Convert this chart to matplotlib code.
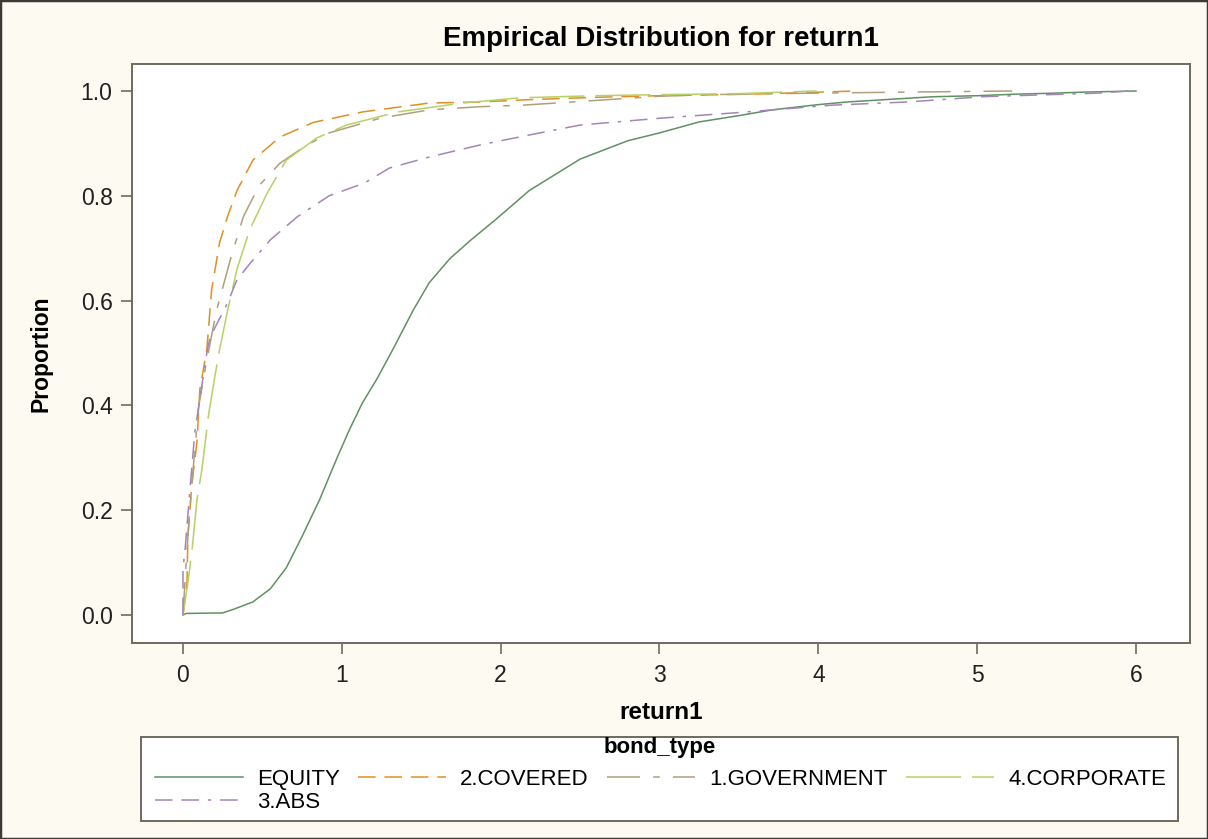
import matplotlib
matplotlib.use("Agg")
import matplotlib.pyplot as plt
from matplotlib.patches import Rectangle

equity_x = [0, 0.02, 0.25, 0.31, 0.44, 0.55, 0.65, 0.75, 0.86, 0.97, 1.05, 1.13, 1.22,
            1.32, 1.45, 1.55, 1.68, 1.81, 1.97, 2.18, 2.5, 2.8, 3.0, 3.25, 3.5, 3.71,
            4.0, 4.18, 4.5, 4.72, 5.0, 5.25, 5.5, 5.69, 6.0]
equity_y = [0, 0.003, 0.004, 0.01, 0.025, 0.05, 0.09, 0.15, 0.22, 0.30, 0.355, 0.405, 0.45,
            0.506, 0.582, 0.634, 0.68, 0.715, 0.755, 0.81, 0.87, 0.905, 0.92, 0.941, 0.953, 0.964,
            0.974, 0.979, 0.985, 0.989, 0.991, 0.994, 0.996, 0.998, 1.0]

covered_x = [0, 0.025, 0.031, 0.056, 0.088, 0.106, 0.15, 0.18, 0.23, 0.28, 0.34, 0.44,
             0.61, 0.82, 1.13, 1.55, 1.87, 2.14, 2.6, 3.0, 3.59, 4.24]
covered_y = [0, 0.06, 0.15, 0.25, 0.33, 0.43, 0.506, 0.62, 0.71, 0.76, 0.81, 0.868,
             0.912, 0.94, 0.96, 0.977, 0.979, 0.983, 0.988, 0.991, 0.994, 1.0]

government_x = [0, 0.02, 0.04, 0.07, 0.1, 0.14, 0.21, 0.30, 0.38, 0.48, 0.61, 0.76, 0.92,
                1.24, 1.55, 1.87, 2.14, 2.5, 3.0, 3.3, 4.0, 4.6, 5.22]
government_y = [0, 0.1, 0.19, 0.3, 0.4, 0.47, 0.58, 0.68, 0.76, 0.82, 0.862, 0.893, 0.92,
                0.948, 0.964, 0.97, 0.973, 0.98, 0.99, 0.993, 0.996, 0.998, 1.0]

corporate_x = [0, 0.03, 0.057, 0.088, 0.12, 0.16, 0.2, 0.23, 0.28, 0.34, 0.42, 0.53, 0.65,
               0.84, 1.03, 1.35, 1.76, 2.12, 2.6, 3.0, 3.5, 3.99]
corporate_y = [0, 0.06, 0.124, 0.22, 0.28, 0.38, 0.454, 0.506, 0.58, 0.66, 0.735, 0.805, 0.868,
               0.91, 0.935, 0.96, 0.977, 0.987, 0.991, 0.993, 0.995, 1.0]

abs_x = [0, 0.0, 0.013, 0.044, 0.075, 0.12, 0.15, 0.17, 0.28, 0.34, 0.42, 0.55, 0.72, 0.92,
         1.14, 1.30, 1.55, 1.87, 2.18, 2.5, 3.0, 3.46, 4.09, 4.56, 5.03, 5.77, 5.95]
abs_y = [0, 0.09, 0.124, 0.24, 0.35, 0.44, 0.50, 0.53, 0.595, 0.64, 0.67, 0.716, 0.76, 0.80,
         0.824, 0.853, 0.874, 0.897, 0.916, 0.935, 0.948, 0.958, 0.973, 0.979, 0.989, 0.996, 1.0]

x_ticks = [0, 1, 2, 3, 4, 5, 6]
y_ticks = [0.0, 0.2, 0.4, 0.6, 0.8, 1.0]

plt.rcParams["font.family"] = ["Liberation Sans", "DejaVu Sans"]

bg = "#fdfaf2"
frame = "#6e6a5e"
W, H = 1208, 839

fig = plt.figure(figsize=(W / 100, H / 100), dpi=100, facecolor=bg)
ax = fig.add_axes([132 / W, 1 - 643 / H, (1190 - 132) / W, (643 - 64) / H])
ax.set_facecolor("white")

lines = {}
lines["EQUITY"], = ax.plot(equity_x, equity_y, color="#5f9162", lw=1.1, label="EQUITY")
lines["2.COVERED"], = ax.plot(covered_x, covered_y, color="#e08f25", lw=1.1,
                              dashes=(11.5, 5.8), label="2.COVERED")
lines["1.GOVERNMENT"], = ax.plot(government_x, government_y, color="#b19e7a", lw=1.1,
                                 dashes=(21.6, 8.6, 4.3, 8.6), label="1.GOVERNMENT")
lines["4.CORPORATE"], = ax.plot(corporate_x, corporate_y, color="#b6d165", lw=1.1,
                                dashes=(36, 7.2), label="4.CORPORATE")
lines["3.ABS"], = ax.plot(abs_x, abs_y, color="#a485b8", lw=1.1,
                          dashes=(11.5, 5.8, 11.5, 5.8, 2.2, 5.8), label="3.ABS")

ax.set_xlim(-0.321, 6.34)
ax.set_ylim(-0.0534, 1.0515)
ax.set_xticks(x_ticks)
ax.set_xticklabels([str(v) for v in x_ticks])
ax.set_yticks(y_ticks)
ax.set_yticklabels([f"{v:.1f}" for v in y_ticks])
ax.tick_params(direction="out", length=8, width=1.2, color=frame,
               labelsize=16.5, labelcolor="#202020")
ax.tick_params(axis="y", pad=6)
ax.tick_params(axis="x", pad=7)
for s in ax.spines.values():
    s.set_color(frame)
    s.set_linewidth(1.4)

ax.set_xlabel("return1", fontsize=17.5, fontweight="bold", labelpad=10)
ax.set_ylabel("Proportion", fontsize=16.5, fontweight="bold", labelpad=20)
ax.set_title("Empirical Distribution for return1", fontsize=20, fontweight="bold", pad=13)

# legend box drawn by hand: SAS pads it wider than tall
fig.patches.append(Rectangle((141 / W, 1 - 821 / H), (1178 - 141) / W, (821 - 737) / H,
                             transform=fig.transFigure, facecolor="white",
                             edgecolor=frame, linewidth=1.4, zorder=0))
fig.text(659.5 / W, 1 - 748 / H, "bond_type", fontsize=16, fontweight="bold",
         ha="center", va="center")

# matplotlib fills legend columns first, so put ABS second to land in row two
order = ["EQUITY", "3.ABS", "2.COVERED", "1.GOVERNMENT", "4.CORPORATE"]
leg = fig.legend([lines[k] for k in order], order, ncol=4, loc="upper left",
                 bbox_to_anchor=(155 / W, 1 - 769 / H, (1166 - 155) / W, 0),
                 mode="expand", borderaxespad=0, fontsize=16,
                 handlelength=3.96, handletextpad=0.63, columnspacing=0.9,
                 labelspacing=0.08, borderpad=0, frameon=False)

fig.patches.append(Rectangle((0, 0), 1, 1, transform=fig.transFigure, fill=False,
                             edgecolor="#3c3a34", linewidth=2.5))

fig.savefig("out.png", dpi=100, facecolor=bg)
